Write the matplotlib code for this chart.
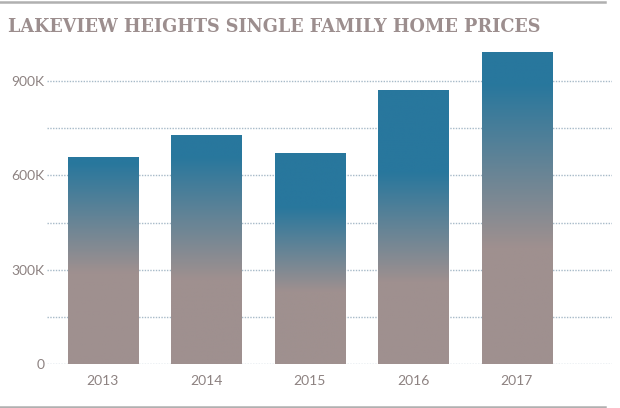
import matplotlib
matplotlib.use("Agg")
import matplotlib.pyplot as plt
import numpy as np
from matplotlib.colors import to_rgb
from matplotlib.ticker import FixedLocator
from matplotlib.lines import Line2D

years = ["2013", "2014", "2015", "2016", "2017"]
prices = [658000, 728000, 671000, 871000, 992000]
ytick_values = [0, 300000, 600000, 900000]
ytick_labels = ["0", "300K", "600K", "900K"]
title = "LAKEVIEW HEIGHTS SINGLE FAMILY HOME PRICES"

# gradient stops per bar (style): value where solid blue ends / solid gray begins
blue_end = [640000, 660000, 500000, 610000, 890000]
gray_start = [290000, 270000, 230000, 260000, 370000]

BLUE = "#28779d"
GRAY = "#9f908f"
TXT = "#8d8281"

fig = plt.figure(figsize=(6.2, 4.08), dpi=100)
ax = fig.add_axes([0.0758, 0.1078, 0.987 - 0.0758, 0.7706])

for s in ax.spines.values():
    s.set_visible(False)

ax.set_yticks(ytick_values)
ax.set_yticklabels(ytick_labels)
ax.yaxis.set_minor_locator(FixedLocator([150000, 450000, 750000]))
ax.set_xticks(range(len(years)))
ax.set_xticklabels(years)
ax.tick_params(axis="both", which="both", length=0)
ax.tick_params(axis="y", pad=2, labelsize=10, labelcolor=TXT)
ax.tick_params(axis="x", pad=8, labelsize=10, labelcolor=TXT)
for lab in ax.get_xticklabels() + ax.get_yticklabels():
    lab.set_fontfamily("Lato")

ax.yaxis.grid(True, which="both", color="#a7bac8", linestyle=(0, (1, 1)), linewidth=1.0)
ax.set_axisbelow(True)

c_blue = np.array(to_rgb(BLUE))
c_gray = np.array(to_rgb(GRAY))
width = 0.68
bars = ax.bar(range(len(years)), prices, width=width, facecolor="none", edgecolor="none", zorder=2)
for i, (b, v) in enumerate(zip(bars, prices)):
    ys = np.linspace(0, v, 400)
    t = np.clip((ys - gray_start[i]) / (blue_end[i] - gray_start[i]), 0, 1)
    cols = c_gray[None, :] * (1 - t[:, None]) + c_blue[None, :] * t[:, None]
    img = cols[:, None, :]
    x0 = b.get_x()
    im = ax.imshow(img, extent=[x0, x0 + width, 0, v], origin="lower",
                   aspect="auto", zorder=3, interpolation="bilinear")
    im.set_clip_path(b)

ax.set_xlim(-0.54, 4.92)
ax.set_ylim(0, 1000000)

fig.text(8 / 620, 1 - 27 / 408, title, fontsize=12.7, fontweight="bold",
         family="DejaVu Serif", color="#9c8e8e", va="center", ha="left")

fig.add_artist(Line2D([0, 605 / 620], [1 - 1.5 / 408, 1 - 1.5 / 408], color="#b0b0b0", lw=1.8,
                      transform=fig.transFigure))
fig.add_artist(Line2D([0, 605 / 620], [1.5 / 408, 1.5 / 408], color="#b0b0b0", lw=1.8,
                      transform=fig.transFigure))

fig.savefig("out.png", dpi=100)
